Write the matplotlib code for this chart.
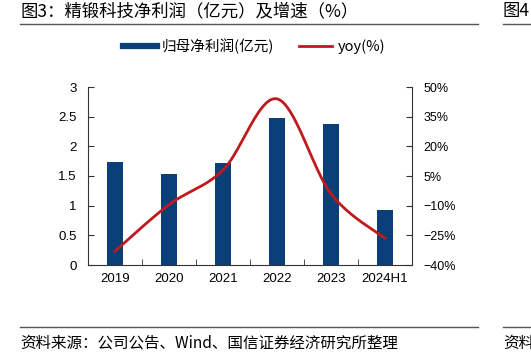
import numpy as np
import matplotlib
matplotlib.use("Agg")
import matplotlib.pyplot as plt
from matplotlib.lines import Line2D

plt.rcParams['font.family'] = ['Noto Sans CJK SC', 'DejaVu Sans']

categories = ["2019", "2020", "2021", "2022", "2023", "2024H1"]
profit = [1.73, 1.54, 1.72, 2.47, 2.38, 0.92]
yoy = [-33.0, -9.5, 8.0, 44.0, -4.0, -26.5]
left_ticks = [0, 0.5, 1, 1.5, 2, 2.5, 3]
left_labels = ["0", "0.5", "1", "1.5", "2", "2.5", "3"]
right_ticks = [-40, -25, -10, 5, 20, 35, 50]
right_labels = ["\u221240%", "\u221225%", "\u221210%", "5%", "20%", "35%", "50%"]

BLUE = "#0B3F78"
RED = "#C0191E"

def smooth(xs, ys, n=40):
    xs = np.asarray(xs, float); ys = np.asarray(ys, float)
    P = np.column_stack([xs, ys])
    Pext = np.vstack([P[0], P, P[-1]])
    out = []
    for i in range(len(P) - 1):
        p0, p1, p2, p3 = Pext[i], Pext[i+1], Pext[i+2], Pext[i+3]
        c1 = p1 + (p2 - p0) / 6.0
        c2 = p2 - (p3 - p1) / 6.0
        t = np.linspace(0, 1, n)[:, None]
        seg = ((1-t)**3)*p1 + 3*((1-t)**2)*t*c1 + 3*(1-t)*(t**2)*c2 + (t**3)*p2
        out.append(seg if i == 0 else seg[1:])
    out = np.vstack(out)
    return out[:, 0], out[:, 1]

fig = plt.figure(figsize=(5.31, 3.53), dpi=100)
ax = fig.add_axes([88/531, 1-265/353, (412-88)/531, (265-87)/353])
x = np.arange(len(categories))
ax.bar(x, profit, width=0.3, color=BLUE, zorder=2)
ax.set_xlim(-0.5, len(categories)-0.5)
ax.set_ylim(0, 3)
ax.set_yticks(left_ticks)
ax.set_yticklabels(left_labels, family=['Liberation Sans'], fontsize=9.5)
ax.set_xticks(x)
ax.set_xticklabels(categories, family=['Liberation Sans'], fontsize=9.5)
ax.set_xticks(np.arange(-0.5, len(categories)), minor=True)
ax.tick_params(axis='x', which='major', length=0, pad=6)
ax.tick_params(axis='x', which='minor', direction='in', length=4, color='#333333')
ax.tick_params(axis='y', direction='in', length=4, color='#333333', pad=8)
for s in ['top', 'right']:
    ax.spines[s].set_visible(False)
for s in ['left', 'bottom']:
    ax.spines[s].set_color('#333333')
    ax.spines[s].set_linewidth(0.8)

ax2 = ax.twinx()
sx, sy = smooth(x, yoy)
ax2.plot(sx, sy, color=RED, linewidth=2.0, zorder=3)
ax2.set_ylim(-40, 50)
ax2.set_yticks(right_ticks)
ax2.set_yticklabels(right_labels, family=['Liberation Sans'], fontsize=9)
ax2.tick_params(axis='y', direction='in', length=4, color='#333333', pad=8)
for s in ['top', 'left', 'bottom']:
    ax2.spines[s].set_visible(False)
ax2.spines['right'].set_color('#333333')
ax2.spines['right'].set_linewidth(0.8)

handles = [Line2D([0], [0], color=BLUE, linewidth=4.5),
           Line2D([0], [0], color=RED, linewidth=2.0)]
fig.legend(handles, ["归母净利润(亿元)", "yoy(%)"], loc='center', bbox_to_anchor=(254/531, 1-46/353),
           ncol=2, frameon=False, fontsize=10.5, handlelength=2.3, handletextpad=0.35, columnspacing=1.7)

fig.text(20/531, 1-11/353, "图3：精锻科技净利润（亿元）及增速（%）", fontsize=12.5, va='center', ha='left')
fig.add_artist(Line2D([20/531, 478/531], [1-24/353, 1-24/353], color='#555555', linewidth=1.0))
fig.text(503/531, 1-11/353, "图4", fontsize=12.5, va='center', ha='left')
fig.add_artist(Line2D([503/531, 1.0], [1-24/353, 1-24/353], color='#555555', linewidth=1.0))

fig.add_artist(Line2D([20/531, 478/531], [1-327/353, 1-327/353], color='#555555', linewidth=1.0))
fig.add_artist(Line2D([503/531, 1.0], [1-327/353, 1-327/353], color='#555555', linewidth=1.0))
fig.text(20/531, 1-343/353, "资料来源：公司公告、Wind、国信证券经济研究所整理", fontsize=11.2, va='center', ha='left')
fig.text(503/531, 1-343/353, "资料", fontsize=11.2, va='center', ha='left')

fig.savefig("out.png", dpi=100)
